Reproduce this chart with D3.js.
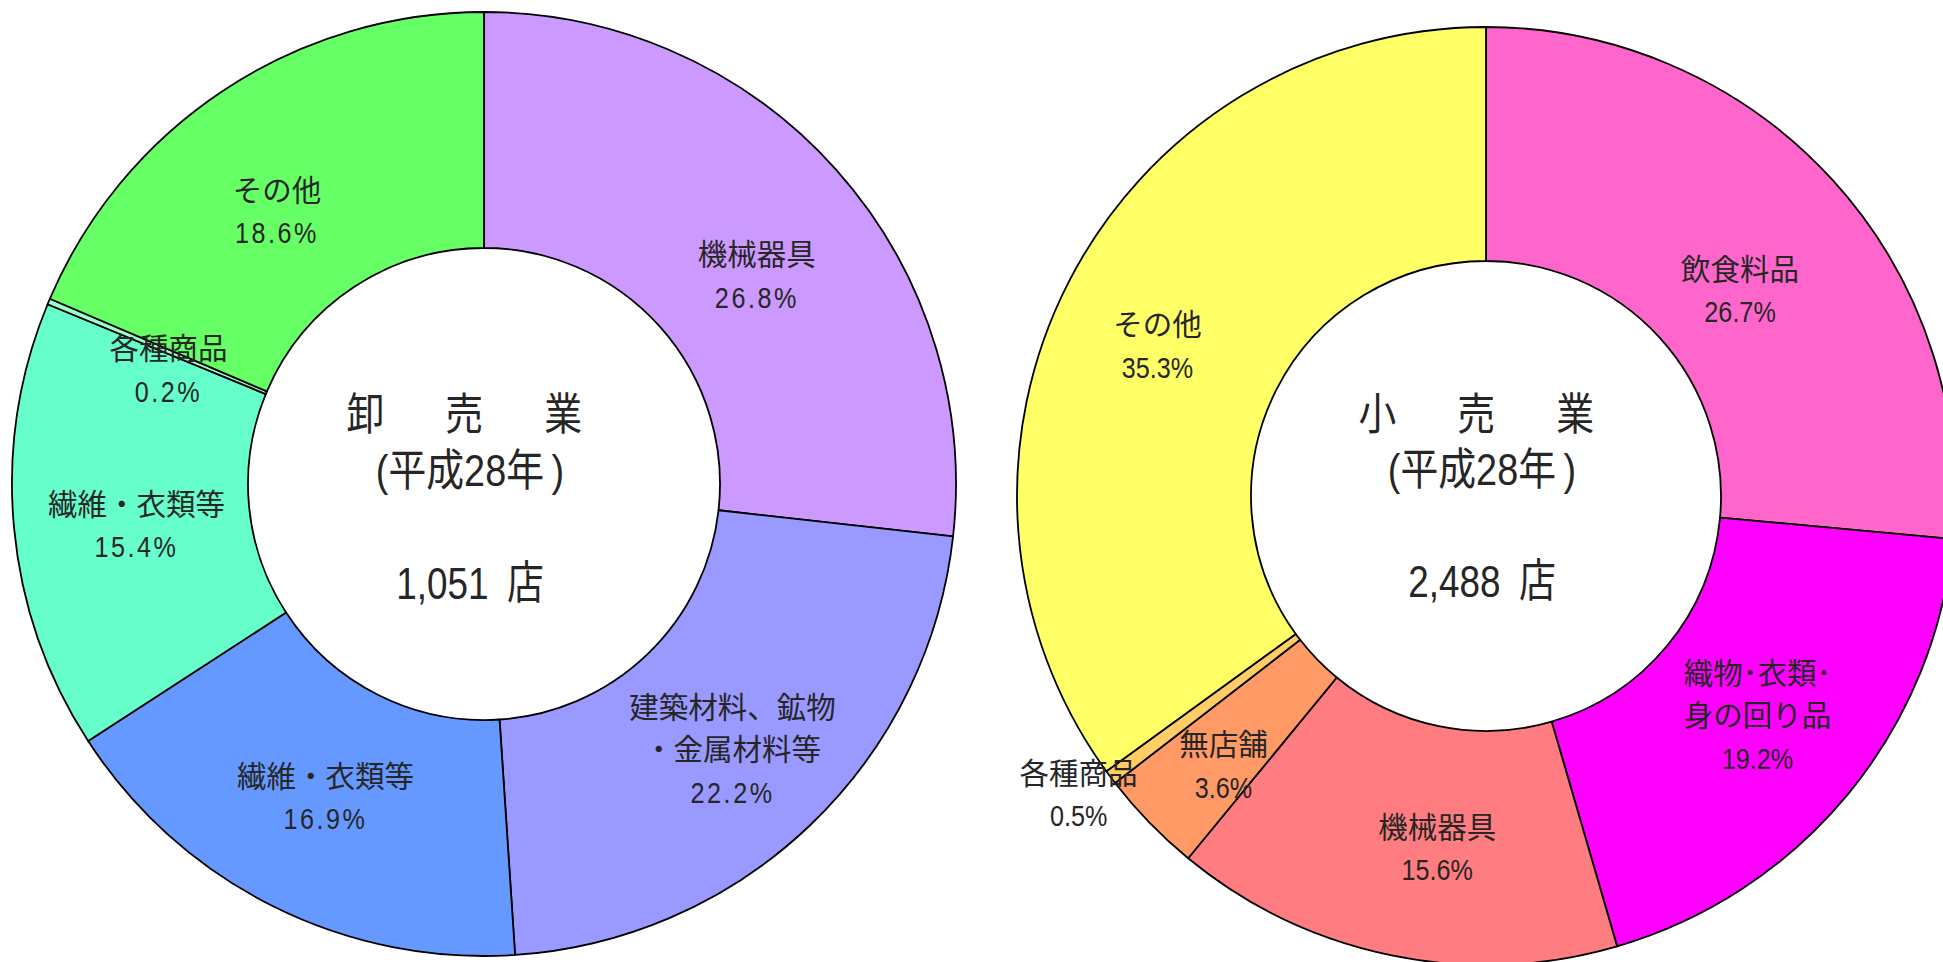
<!DOCTYPE html>
<html><head><meta charset="utf-8">
<script src="https://cdn.jsdelivr.net/npm/d3@7"></script>
<style>
body{margin:0;background:#fff;overflow:hidden}
text{font-family:"Liberation Sans","Noto Sans CJK JP",sans-serif;fill:#262626}
</style>
</head><body>
<svg id="chart" width="1943" height="962"></svg>
<script>
// ---- data ----
const wholesaleCategories = ["機械器具","建築材料、鉱物・金属材料等","繊維・衣類等","繊維・衣類等","各種商品","その他"];
const wholesaleLabelLines = [["機械器具"],["建築材料、鉱物","・金属材料等"],["繊維・衣類等"],["繊維・衣類等"],["各種商品"],["その他"]];
const wholesaleValues = [26.8, 22.2, 16.9, 15.4, 0.2, 18.6];
const wholesaleColors = ["#CC99FF","#9999FF","#6699FF","#66FFCC","#99FFCC","#66FF66"];
const wholesaleTitle = ["卸　売　業","(平成28年\u2009)","1,051\u2002店"];

const retailCategories = ["飲食料品","織物･衣類･身の回り品","機械器具","無店舗","各種商品","その他"];
const retailLabelLines = [["飲食料品"],["織物･衣類･","身の回り品"],["機械器具"],["無店舗"],["各種商品"],["その他"]];
const retailValues = [26.7, 19.2, 15.6, 3.6, 0.5, 35.3];
const retailColors = ["#FF66CC","#FF00FF","#FF7C80","#FF9966","#FFCC66","#FFFF66"];
const retailTitle = ["小　売　業","(平成28年\u2009)","2,488\u2002店"];
const retailOutside = [false,false,false,false,true,false];

// ---- drawing ----
const svg = d3.select("#chart");

function donut(cfg){
  const g = svg.append("g").attr("transform",`translate(${cfg.cx},${cfg.cy})`);
  const pie = d3.pie().sort(null).value(d=>d.value).startAngle(0).endAngle(2*Math.PI);
  const data = cfg.values.map((v,i)=>({value:v, name:cfg.categories[i], lines:cfg.lines[i], color:cfg.colors[i], outside:cfg.outside?cfg.outside[i]:false, nudge:cfg.nudge[i]}));
  const arcs = pie(data);
  const arc = d3.arc().innerRadius(cfg.ri).outerRadius(cfg.ro);
  g.selectAll("path.slice").data(arcs).join("path")
    .attr("class","slice")
    .attr("d",arc)
    .attr("fill",d=>d.data.color)
    .attr("stroke","#000")
    .attr("stroke-width",1.8)
    .attr("stroke-linejoin","round");

  const outArc = d3.arc().innerRadius(cfg.ro*1.08).outerRadius(cfg.ro*1.08);
  const lh = 42.5;
  arcs.forEach(a=>{
    let [x,y] = a.data.outside ? outArc.centroid(a) : arc.centroid(a);
    x += a.data.nudge[0]; y += a.data.nudge[1];
    const lines = a.data.lines.concat([a.data.value.toFixed(1)+"%"]);
    const n = lines.length;
    lines.forEach((t,i)=>{
      const yy = y + (i-(n-1)/2)*lh;
      const isPct = i===n-1;
      const tg = g.append("g").attr("transform",`translate(${x},${yy}) scale(${isPct?0.84:1},1)`);
      tg.append("text")
        .attr("text-anchor","middle")
        .attr("dominant-baseline","central")
        .attr("font-size",isPct?30:29.5)
        .attr("letter-spacing",isPct&&cfg.spaced?3:0)
        .text(t);
    });
  });

  cfg.title.forEach((t,i)=>{
    const tg = svg.append("g").attr("transform",`translate(${cfg.tx},${cfg.ty[i]}) scale(${i===2?0.82:0.86},1)`);
    tg.append("text")
      .attr("text-anchor","middle")
      .attr("dominant-baseline","central")
      .attr("font-size",i===2?45:44)
      .attr("letter-spacing",i===0?13.5:0)
      .text(t);
  });
}

donut({cx:484, cy:484, ri:236, ro:472, categories:wholesaleCategories, lines:wholesaleLabelLines,
  values:wholesaleValues, colors:wholesaleColors, title:wholesaleTitle, tx:470, ty:[415,471,584], spaced:true,
  nudge:[[9,28],[4,10],[0,-3],[5,9],[11,23],[-12,23]]});
donut({cx:1486, cy:496, ri:235, ro:469, categories:retailCategories, lines:retailLabelLines,
  values:retailValues, colors:retailColors, title:retailTitle, tx:1482, ty:[415,470,582], outside:retailOutside, spaced:false,
  nudge:[[-6,32],[0,-4],[22,8],[-10,25],[-2,-5],[-15,10]]});
</script>
</body></html>
